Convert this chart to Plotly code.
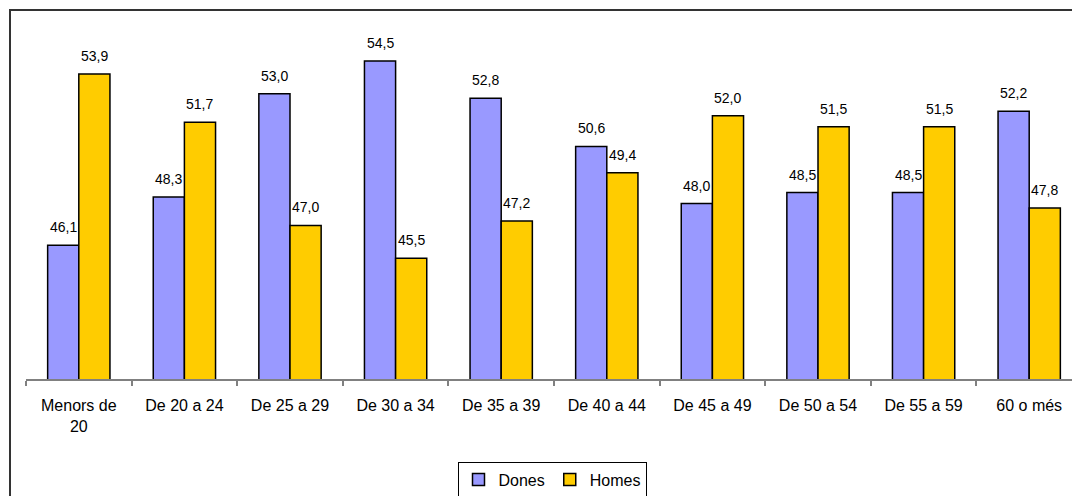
import plotly.graph_objects as go

categories = ["Menors de<br>20", "De 20 a 24", "De 25 a 29", "De 30 a 34", "De 35 a 39",
              "De 40 a 44", "De 45 a 49", "De 50 a 54", "De 55 a 59", "60 o més"]
dones = [46.1, 48.3, 53.0, 54.5, 52.8, 50.6, 48.0, 48.5, 48.5, 52.2]
homes = [53.9, 51.7, 47.0, 45.5, 47.2, 49.4, 52.0, 51.5, 51.5, 47.8]

FONT = "Liberation Sans, Arial, sans-serif"
W, H = 1080, 496
OFF = 8  # page body margin
ML, MR, MT, MB = 26 - OFF, 6, 28 - OFF, 496 - (381 - OFF)
pw = W - ML - MR
ph = H - MT - MB

fig = go.Figure()
fig.add_trace(go.Bar(name="Dones", x=categories, y=dones,
                     marker=dict(color="#9999FF", line=dict(color="#000000", width=1.5))))
fig.add_trace(go.Bar(name="Homes", x=categories, y=homes,
                     marker=dict(color="#FFCC00", line=dict(color="#000000", width=1.5))))

def fmt(v):
    return f"{v:.1f}".replace(".", ",")

ann = []
for c, d, h in zip(categories, dones, homes):
    ann.append(dict(x=c, y=d, xref="x", yref="y", text=fmt(d), showarrow=False,
                    xshift=-15.5, yshift=8, yanchor="bottom",
                    font=dict(family=FONT, size=14, color="#000")))
    ann.append(dict(x=c, y=h, xref="x", yref="y", text=fmt(h), showarrow=False,
                    xshift=15.5, yshift=8, yanchor="bottom",
                    font=dict(family=FONT, size=14, color="#000")))

fig.update_layout(
    width=W, height=H,
    margin=dict(l=ML, r=MR, t=MT, b=MB),
    paper_bgcolor="white", plot_bgcolor="white",
    barmode="group", bargap=0.41, bargroupgap=0,
    font=dict(family=FONT, size=16, color="#000"),
    annotations=ann,
    showlegend=True,
    legend=dict(orientation="h", x=(552 - OFF - ML) / pw, xanchor="center",
                y=(H - MB - (464 - OFF)) / ph, yanchor="top",
                bordercolor="#000", borderwidth=1, bgcolor="white",
                font=dict(family=FONT, size=16), itemwidth=30, traceorder="normal"),
    shapes=[dict(type="rect", xref="paper", yref="paper",
                 x0=(10 - OFF - ML) / pw, x1=1.2, y0=-0.6, y1=(H - MB - (10 - OFF)) / ph,
                 line=dict(color="#333333", width=2), fillcolor="rgba(0,0,0,0)", layer="below")],
)
fig.update_xaxes(showline=True, linecolor="#808080", linewidth=1.5,
                 ticks="outside", tickson="boundaries", ticklen=5, tickcolor="#808080",
                 tickwidth=1.5, showgrid=False, ticklabelstandoff=11,
                 tickfont=dict(family=FONT, size=16, color="#000"))
fig.update_yaxes(range=[40, 56], showticklabels=False, showgrid=False, zeroline=False,
                 showline=False, ticks="")

fig.write_html("out.html")
